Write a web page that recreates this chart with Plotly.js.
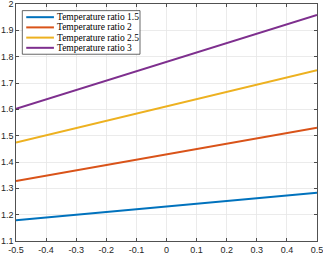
<!DOCTYPE html>
<html>
<head>
<meta charset="utf-8">
<script src="https://cdn.plot.ly/plotly-3.0.1.min.js"></script>
<style>html,body{margin:0;padding:0;background:#fff;}</style>
</head>
<body>
<div id="chart" style="width:323px;height:255px;"></div>
<script>
const xVals = [-0.5, 0.5];
const ratio15 = [1.179, 1.283];
const ratio2 = [1.328, 1.530];
const ratio25 = [1.474, 1.749];
const ratio3 = [1.602, 1.958];
const seriesNames = ['Temperature ratio 1.5', 'Temperature ratio 2', 'Temperature ratio 2.5', 'Temperature ratio 3'];
const seriesColors = ['#0072BD', '#D95319', '#EDB120', '#7E2F8E'];
const allSeries = [ratio15, ratio2, ratio25, ratio3];
const xTicks = [-0.5, -0.4, -0.3, -0.2, -0.1, 0, 0.1, 0.2, 0.3, 0.4, 0.5];
const xTickText = ['-0.5', '-0.4', '-0.3', '-0.2', '-0.1', '0', '0.1', '0.2', '0.3', '0.4', '0.5'];
const yTicks = [1.1, 1.2, 1.3, 1.4, 1.5, 1.6, 1.7, 1.8, 1.9, 2];
const yTickText = ['1.1', '1.2', '1.3', '1.4', '1.5', '1.6', '1.7', '1.8', '1.9', '2'];

const traces = allSeries.map((ys, i) => ({
  x: xVals, y: ys, type: 'scatter', mode: 'lines',
  name: seriesNames[i], showlegend: false,
  line: {color: seriesColors[i], width: 2}
}));

const axisCommon = {
  showline: true, linecolor: '#262626', linewidth: 0.8, mirror: 'ticks',
  ticks: 'inside', ticklen: 3, tickcolor: '#262626', tickwidth: 0.8,
  showgrid: true, gridcolor: '#e6e6e6', gridwidth: 0.8,
  zeroline: false, tickmode: 'array', ticklabeloverflow: 'allow',
  tickfont: {family: 'Liberation Sans, Arial, sans-serif', size: 9, color: '#262626'}
};

// custom legend (MATLAB style, compact rows)
const legX0 = 0.021, legX1 = 0.412, legY0 = 0.788, legY1 = 0.972;
const rowY0 = 0.9444, rowStep = 0.0431;
const shapes = [{
  type: 'rect', xref: 'paper', yref: 'paper',
  x0: legX0, x1: legX1, y0: legY0, y1: legY1,
  fillcolor: '#fff', line: {color: '#262626', width: 0.7}, layer: 'above'
}];
const annotations = [];
seriesNames.forEach((nm, i) => {
  const yy = rowY0 - i * rowStep;
  shapes.push({
    type: 'line', xref: 'paper', yref: 'paper',
    x0: 0.034, x1: 0.126, y0: yy, y1: yy,
    line: {color: seriesColors[i], width: 2}, layer: 'above'
  });
  annotations.push({
    xref: 'paper', yref: 'paper', x: 0.131, y: yy,
    xanchor: 'left', yanchor: 'middle', showarrow: false,
    text: nm,
    font: {family: 'Liberation Serif, Times New Roman, serif', size: 9.5, color: '#000'}
  });
});

const layout = {
  width: 323, height: 255,
  margin: {l: 16, r: 6, t: 4, b: 14},
  paper_bgcolor: '#fff', plot_bgcolor: '#fff',
  showlegend: false,
  shapes: shapes,
  annotations: annotations,
  xaxis: Object.assign({}, axisCommon, {range: [-0.5, 0.5], tickvals: xTicks, ticktext: xTickText}),
  yaxis: Object.assign({}, axisCommon, {range: [1.1, 2], tickvals: yTicks, ticktext: yTickText})
};

Plotly.newPlot('chart', traces, layout, {displayModeBar: false, staticPlot: true});
</script>
</body>
</html>
